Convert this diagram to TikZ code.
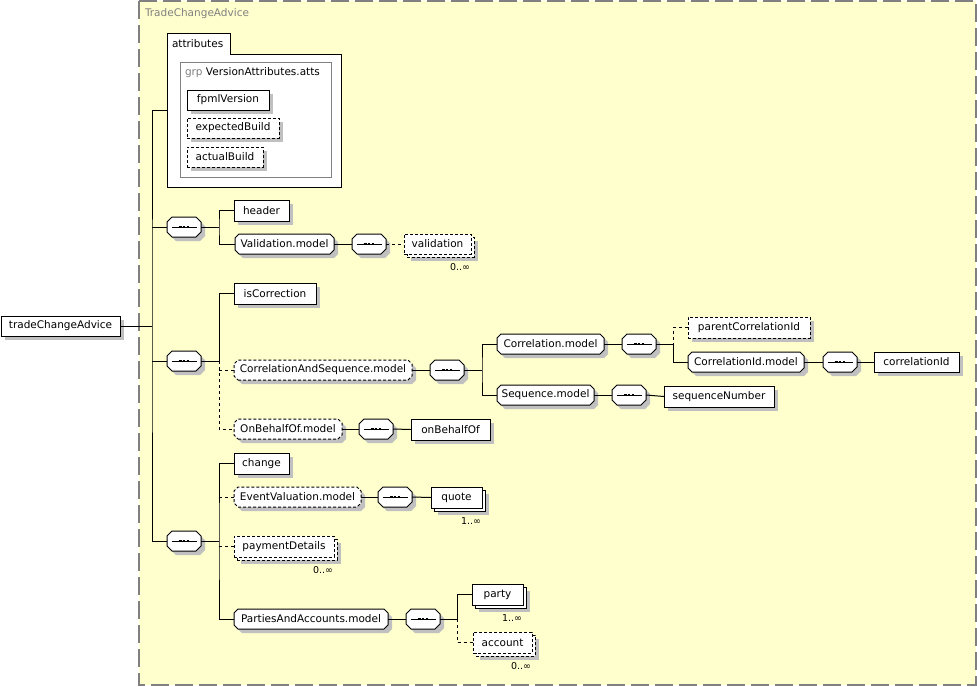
\documentclass[tikz,border=0pt]{standalone}
\usepackage{fontspec}
\setmainfont{DejaVu Sans}
\usetikzlibrary{shadows}
\definecolor{bgy}{RGB}{255,255,206}
\definecolor{shd}{RGB}{192,192,192}
\definecolor{frame}{RGB}{128,128,128}
\makeatletter
\pgfkeys{/pgf/octo cut/.initial=4pt}
\pgfdeclareshape{octo}{%
  \inheritsavedanchors[from=rectangle]%
  \inheritanchorborder[from=rectangle]%
  \inheritanchor[from=rectangle]{center}%
  \inheritanchor[from=rectangle]{north}%
  \inheritanchor[from=rectangle]{south}%
  \inheritanchor[from=rectangle]{east}%
  \inheritanchor[from=rectangle]{west}%
  \inheritanchor[from=rectangle]{north west}%
  \inheritanchor[from=rectangle]{north east}%
  \inheritanchor[from=rectangle]{south west}%
  \inheritanchor[from=rectangle]{south east}%
  \inheritanchor[from=rectangle]{base}%
  \inheritanchor[from=rectangle]{mid}%
  \backgroundpath{%
    \pgfmathsetlengthmacro\octocut{\pgfkeysvalueof{/pgf/octo cut}}%
    \southwest \edef\oxa{\the\pgf@x}\edef\oya{\the\pgf@y}%
    \northeast \edef\oxb{\the\pgf@x}\edef\oyb{\the\pgf@y}%
    \pgfpathmoveto{\pgfpoint{\oxa+\octocut}{\oya}}%
    \pgfpathlineto{\pgfpoint{\oxb-\octocut}{\oya}}%
    \pgfpathlineto{\pgfpoint{\oxb}{\oya+\octocut}}%
    \pgfpathlineto{\pgfpoint{\oxb}{\oyb-\octocut}}%
    \pgfpathlineto{\pgfpoint{\oxb-\octocut}{\oyb}}%
    \pgfpathlineto{\pgfpoint{\oxa+\octocut}{\oyb}}%
    \pgfpathlineto{\pgfpoint{\oxa}{\oyb-\octocut}}%
    \pgfpathlineto{\pgfpoint{\oxa}{\oya+\octocut}}%
    \pgfpathclose
  }%
}
\makeatother
\begin{document}
\begin{tikzpicture}[x=1pt,y=-1pt, line width=1pt,
  font=\fontsize{10.5}{12}\selectfont,
  every node/.style={inner sep=0pt, outer sep=0pt},
  base/.style={anchor=north west, draw, fill=white, minimum height=20pt},
  shadow4/.style={drop shadow={shadow xshift=4pt, shadow yshift=-4pt, fill=shd, opacity=1}},
  elem/.style={base, rectangle, shadow4},
  optelem/.style={base, rectangle, shadow4, dash pattern=on 3pt off 2pt},
  multi/.style={base, rectangle,
    drop shadow={shadow xshift=7pt, shadow yshift=-7pt, fill=shd, opacity=1},
    preaction={draw, fill=white, transform canvas={shift={(3pt,-3pt)}}}},
  optmulti/.style={base, rectangle, dash pattern=on 3pt off 2pt,
    drop shadow={shadow xshift=7pt, shadow yshift=-7pt, fill=shd, opacity=1},
    preaction={draw, fill=white, dash pattern=on 3pt off 2pt, transform canvas={shift={(3pt,-3pt)}}}},
  model/.style={base, shadow4, shape=octo, /pgf/octo cut=4pt},
  optmodel/.style={model, dash pattern=on 3pt off 2pt},
  comp/.style={base, shadow4, shape=octo, /pgf/octo cut=5pt,
    minimum width=34pt, minimum height=20pt,
    path picture={
      \draw[black, solid, line width=1pt] ([xshift=4.5pt]path picture bounding box.west) -- ([xshift=-4.5pt]path picture bounding box.east);
      \draw[black, line width=2.6pt, dash pattern=on 2.6pt off 1.2pt] ([xshift=-5.1pt]path picture bounding box.center) -- ([xshift=5.1pt]path picture bounding box.center);
    }},
  dline/.style={dash pattern=on 3pt off 3pt},
  mult/.style={anchor=east, font=\fontsize{9.5}{11}\selectfont}
]
\useasboundingbox (0,0) rectangle (977,686);
\fill[white] (0,0) rectangle (977,686);
% outer type box
\fill[bgy] (139,1) rectangle (976,685);
\draw[frame, line width=1.3pt, dash pattern=on 18pt off 6pt] (139,1) rectangle (976,685);
\node[anchor=west, text=frame] (title) at (145,13.5) {TradeChangeAdvice};

% attributes
\draw[fill=white] (167,33) -- (230,33) -- (230,54) -- (341,54) -- (341,187) -- (167,187) -- cycle;
\node[anchor=west] (attrlbl) at (172,44) {attributes};
\draw[frame, fill=white] (180,62) rectangle (331,177);
\node[anchor=west] (grplbl) at (185,73) {\textcolor{frame}{grp} VersionAttributes.atts};
\node[elem, minimum width=82pt] (fpml) at (187,90) {fpmlVersion};
\node[optelem, minimum width=92pt] (expb) at (187,118) {expectedBuild};
\node[optelem, minimum width=76pt] (actb) at (187,147) {actualBuild};
\coordinate (attrL) at (167,110);

% root
\node[elem, minimum width=119pt] (root) at (1,316) {tradeChangeAdvice};
\coordinate (T) at (152,326);

% group 1
\node[comp] (c1) at (167,217) {};
\node[elem, minimum width=55pt, minimum height=21pt] (header) at (234,200) {header};
\node[model, minimum width=99pt] (valm) at (235,234) {Validation.model};
\node[comp] (c2) at (352,234) {};
\node[optmulti, minimum width=67pt] (valid) at (404,234) {validation};
\node[mult] (m1) at ([shift={(-1,13)}]valid.south east) {0..∞};

% group 2
\node[comp] (c3) at (167,351) {};
\node[elem, minimum width=82pt, minimum height=21pt] (iscorr) at (234,283) {isCorrection};
\node[optmodel, minimum width=178pt] (cas) at (234,360) {CorrelationAndSequence.model};
\node[optmodel, minimum width=108pt] (obo) at (234,419) {OnBehalfOf.model};
\node[comp] (c5) at (430,360) {};
\node[comp] (c6) at (359,419) {};
\node[elem, minimum width=79pt, minimum height=21pt] (onbeh) at (411,419) {onBehalfOf};
\node[model, minimum width=107pt] (corrm) at (497,334) {Correlation.model};
\node[model, minimum width=97pt] (seqm) at (497,385) {Sequence.model};
\node[comp] (c7) at (622,334) {};
\node[optelem, minimum width=122pt, minimum height=21pt] (pcid) at (688,317) {parentCorrelationId};
\node[model, minimum width=116pt] (cidm) at (688,352) {CorrelationId.model};
\node[comp] (c8) at (823,352) {};
\node[elem, minimum width=85pt] (cid) at (874,352) {correlationId};
\node[comp] (c9) at (612,385) {};
\node[elem, minimum width=110pt, minimum height=21pt] (seqn) at (664,386) {sequenceNumber};

% group 3
\node[comp] (c4) at (167,531) {};
\node[elem, minimum width=55pt, minimum height=21pt] (change) at (234,453) {change};
\node[optmodel, minimum width=127pt] (evm) at (234,487) {EventValuation.model};
\node[comp] (c10) at (378,487) {};
\node[multi, minimum width=51pt, minimum height=21pt] (quote) at (431,487) {quote};
\node[mult] (m2) at ([shift={(-1,13)}]quote.south east) {1..∞};
\node[optmulti, minimum width=100pt, minimum height=21pt] (pd) at (234,536) {paymentDetails};
\node[mult] (m3) at ([shift={(-1,13)}]pd.south east) {0..∞};
\node[model, minimum width=154pt] (pam) at (234,609) {PartiesAndAccounts.model};
\node[comp] (c11) at (406,609) {};
\node[multi, minimum width=51pt, minimum height=21pt] (party) at (472,584) {party};
\node[mult] (m4) at ([shift={(-1,13)}]party.south east) {1..∞};
\node[optmulti, minimum width=59pt, minimum height=21pt] (acct) at (473,632) {account};
\node[mult] (m5) at ([shift={(-1,13)}]acct.south east) {0..∞};

% connectors: trunk
\draw (root.east) -- (T);
\draw (attrL) -| (T) |- (c4.west);
\draw (T |- c1.west) -- (c1.west);
\draw (T |- c3.west) -- (c3.west);

% group 1 connectors
\coordinate (B1) at (219,227);
\draw (c1.east) -- (B1);
\draw (header.west) -| (B1) |- (valm.west);
\draw (valm.east) -- (c2.west);
\draw[dline] (c2.east) -- (valid.west);

% group 2 connectors
\coordinate (B3) at (219,361);
\draw (c3.east) -- (B3);
\draw (iscorr.west) -| (B3);
\draw[dline] (B3) |- (obo.west);
\draw[dline] (B3 |- cas.west) -- (cas.west);
\draw (cas.east) -- (c5.west);
\coordinate (B5) at (482,370);
\draw (c5.east) -- (B5);
\draw (corrm.west) -| (B5) |- (seqm.west);
\draw (corrm.east) -- (c7.west);
\coordinate (B7) at (673,344);
\draw (c7.east) -- (B7);
\draw[dline] (pcid.west) -| (B7);
\draw (B7) |- (cidm.west);
\draw (cidm.east) -- (c8.west);
\draw (c8.east) -- (cid.west);
\draw (seqm.east) -- (c9.west);
\draw (c9.east) -- (seqn.west);
\draw (obo.east) -- (c6.west);
\draw (c6.east) -- (onbeh.west);

% group 3 connectors
\coordinate (B4) at (219,541);
\draw (c4.east) -- (B4);
\draw (change.west) -| (B4) |- (pam.west);
\draw[dline] (B4 |- evm.west) -- (evm.west);
\draw[dline] (B4 |- pd.west) -- (pd.west);
\draw (evm.east) -- (c10.west);
\draw (c10.east) -- (quote.west);
\draw (pam.east) -- (c11.west);
\coordinate (B11) at (457,619);
\draw (c11.east) -- (B11);
\draw (party.west) -| (B11);
\draw[dline] (B11) |- (acct.west);
\end{tikzpicture}
\end{document}
